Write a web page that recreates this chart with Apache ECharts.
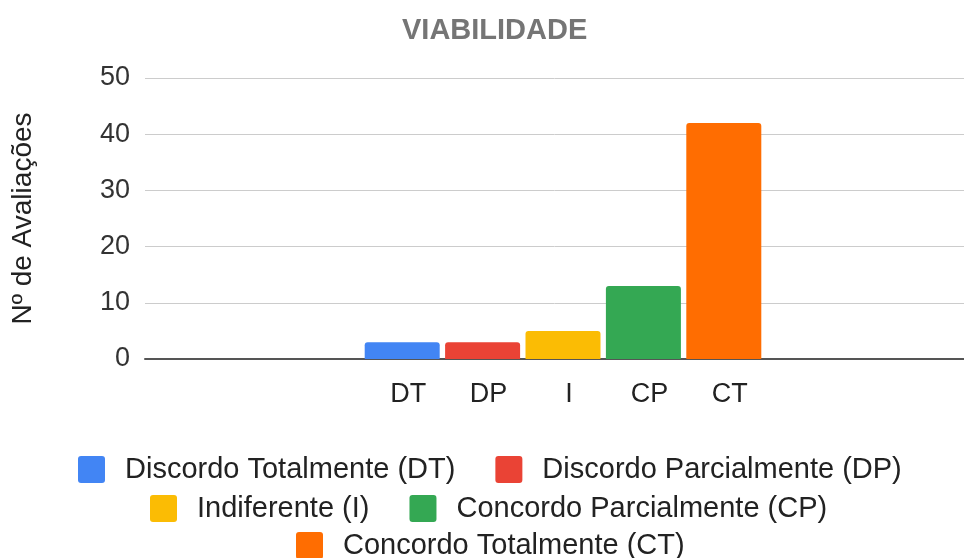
<!DOCTYPE html>
<html>
<head>
<meta charset="utf-8">
<script src="https://cdn.jsdelivr.net/npm/echarts@6/dist/echarts.min.js"></script>
<style>
  html, body { margin: 0; padding: 0; background: #fff; }
  #main { width: 964px; height: 558px; }
</style>
</head>
<body>
<div id="main"></div>
<script>
// data
const categories = ["DT", "DP", "I", "CP", "CT"];
const seriesNames = [
  "Discordo Totalmente (DT)",
  "Discordo Parcialmente (DP)",
  "Indiferente (I)",
  "Concordo Parcialmente (CP)",
  "Concordo Totalmente (CT)",
];
const values = [3, 3, 5, 13, 42];
const yTicks = [0, 10, 20, 30, 40, 50];

const colors = ["#4285F4", "#EA4335", "#FBBC04", "#34A853", "#FF6D01"];
const font = "'Liberation Sans', Arial, sans-serif";

const chart = echarts.init(document.getElementById("main"));

// each series only has a value in its own category, stacked so they share a slot
const series = seriesNames.map((name, i) => ({
  name: name,
  type: "bar",
  xAxisIndex: 1,
  yAxisIndex: 1,
  stack: "all",
  barWidth: 75,
  itemStyle: { color: colors[i], borderRadius: [3, 3, 0, 0] },
  data: categories.map((c, j) => (j === i ? values[i] : "-")),
}));

// small-radius square for the legend swatches
const swatch = "path://M3,0 H24 Q27,0 27,3 V24 Q27,27 24,27 H3 Q0,27 0,24 V3 Q0,0 3,0 Z";

const legendBase = {
  itemWidth: 27,
  itemHeight: 27,
  itemGap: 40,
  icon: swatch,
  selectedMode: false,
  textStyle: { fontFamily: font, fontSize: 29, color: "#222", padding: [0, 0, 0, 15] },
};

const option = {
  animation: false,
  color: colors,
  title: {
    text: "VIABILIDADE",
    left: 397,
    top: 11,
    textStyle: { fontFamily: font, fontSize: 29, fontWeight: "bold", color: "#757575" },
  },
  legend: [
    Object.assign({}, legendBase, { left: 73, top: 450, data: seriesNames.slice(0, 2) }),
    Object.assign({}, legendBase, { left: 145, top: 489, data: seriesNames.slice(2, 4) }),
    Object.assign({}, legendBase, { left: 291, top: 526, data: seriesNames.slice(4) }),
  ],
  grid: [
    { left: 145, right: 0, top: 78, bottom: 199 },
    { left: 362, right: 200, top: 78, bottom: 199 },
  ],
  xAxis: [
    {
      gridIndex: 0,
      type: "category",
      data: [""],
      axisLine: { show: true, lineStyle: { color: "#555", width: 2 } },
      axisTick: { show: false },
      axisLabel: { show: false },
      z: 1,
    },
    {
      gridIndex: 1,
      type: "category",
      data: categories,
      axisLine: { show: false },
      axisTick: { show: false },
      axisLabel: {
        fontFamily: font,
        fontSize: 27,
        color: "#222",
        margin: 22,
        padding: [0, 0, 0, 12],
      },
    },
  ],
  yAxis: [
    {
      gridIndex: 0,
      type: "value",
      min: yTicks[0],
      max: yTicks[yTicks.length - 1],
      interval: 10,
      name: "Nº de Avaliações",
      nameLocation: "middle",
      nameGap: 108,
      nameTextStyle: { fontFamily: font, fontSize: 28, color: "#222" },
      axisLine: { show: false },
      axisTick: { show: false },
      axisLabel: { fontFamily: font, fontSize: 27, color: "#333", margin: 15 },
      splitLine: { lineStyle: { color: "#ccc", width: 1 } },
    },
    {
      gridIndex: 1,
      type: "value",
      min: yTicks[0],
      max: yTicks[yTicks.length - 1],
      interval: 10,
      show: false,
      splitLine: { show: false },
    },
  ],
  series: series,
};

chart.setOption(option);
</script>
</body>
</html>
